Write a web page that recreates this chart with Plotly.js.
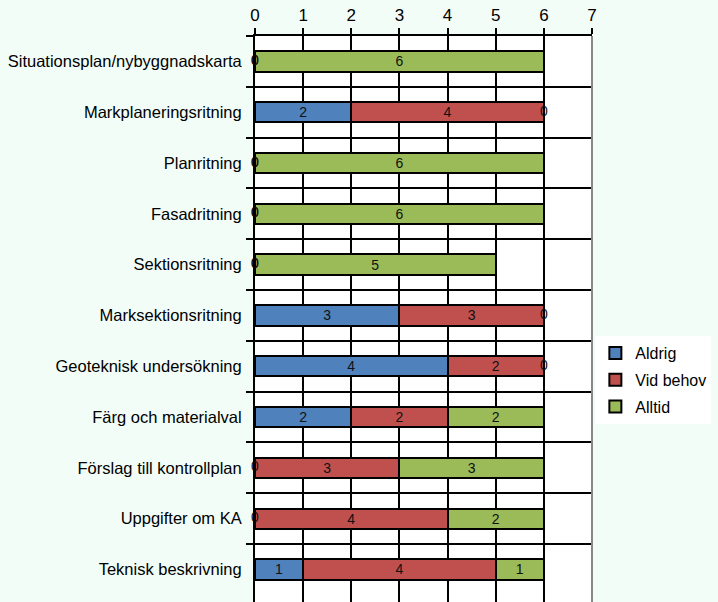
<!DOCTYPE html>
<html>
<head>
<meta charset="utf-8">
<script src="https://cdn.plot.ly/plotly-3.0.1.min.js"></script>
<style>html,body{margin:0;padding:0;background:#F2FDF7;}#chart{width:718px;height:602px;}</style>
</head>
<body>
<div id="chart"></div>
<script>
const categories = [
  "Situationsplan/nybyggnadskarta",
  "Markplaneringsritning",
  "Planritning",
  "Fasadritning",
  "Sektionsritning",
  "Marksektionsritning",
  "Geoteknisk undersökning",
  "Färg och materialval",
  "Förslag till kontrollplan",
  "Uppgifter om KA",
  "Teknisk beskrivning"
];
const aldrig   = [0, 2, 0, 0, 0, 3, 4, 2, 0, 0, 1];
const vidBehov = [0, 4, 0, 0, 0, 3, 2, 2, 3, 4, 4];
const alltid   = [6, 0, 6, 6, 5, 0, 0, 2, 3, 2, 1];
const seriesNames = ["Aldrig", "Vid behov", "Alltid"];
const xTicks = [0, 1, 2, 3, 4, 5, 6, 7];

const colors = ["#4F81BD", "#C0504D", "#9BBB59"];
const seriesVals = [aldrig, vidBehov, alltid];
const labelFont = {family: "Liberation Sans, Arial, sans-serif", size: 14, color: "#111"};

const traces = [];
seriesVals.forEach((vals, i) => {
  traces.push({
    type: "bar",
    orientation: "h",
    name: seriesNames[i],
    legendgroup: "g" + i,
    y: categories,
    x: vals,
    marker: {color: colors[i], line: {color: "#000", width: 2}},
    text: vals.map(v => v ? String(v) : ""),
    textposition: "inside",
    insidetextanchor: "middle",
    textangle: 0,
    constraintext: "none",
    textfont: labelFont,
    hoverinfo: "x+name"
  });
});
// zero-value labels at the stacked position
const zx = [], zy = [];
seriesVals.forEach((vals, i) => {
  vals.forEach((v, j) => {
    if (v === 0) {
      let base = 0;
      for (let k = 0; k < i; k++) base += seriesVals[k][j];
      zx.push(base); zy.push(categories[j]);
    }
  });
});
traces.push({
  type: "scatter", mode: "text", x: zx, y: zy, text: zx.map(() => "0"),
  textfont: labelFont, textposition: "middle center", showlegend: false,
  hoverinfo: "skip", cliponaxis: false
});

const layout = {
  width: 718, height: 602,
  paper_bgcolor: "#F2FDF7",
  plot_bgcolor: "#FFFFFF",
  margin: {l: 255, r: 126, t: 36, b: 0, pad: 0, autoexpand: false},
  barmode: "stack",
  bargap: 0.6,
  font: {family: "Liberation Sans, Arial, sans-serif", size: 16.5, color: "#000"},
  xaxis: {
    side: "top", range: [0, 7], tickvals: xTicks, ticktext: xTicks.map(String),
    showgrid: true, gridcolor: "#000", gridwidth: 2,
    showline: true, linecolor: "#000", linewidth: 2,
    ticks: "outside", ticklen: 6, tickwidth: 2, tickcolor: "#000",
    tickfont: {size: 17}, zeroline: false, fixedrange: true, automargin: false
  },
  yaxis: {
    type: "category", range: [10.64, -0.5],
    tickson: "boundaries", ticks: "outside", ticklen: 7, tickwidth: 2, tickcolor: "#000",
    showgrid: true, gridcolor: "#000", gridwidth: 2,
    showline: true, linecolor: "#000", linewidth: 2,
    tickfont: {size: 16.5}, ticklabelstandoff: 8, fixedrange: true, automargin: false
  },
  legend: {
    x: 1.01, xanchor: "left", y: 0.47, yanchor: "top",
    bgcolor: "#FFFFFF", traceorder: "grouped", tracegroupgap: 3,
    font: {size: 16}, itemwidth: 30
  },
  shapes: [{type: "line", xref: "paper", yref: "paper", x0: 1, x1: 1, y0: 0, y1: 1,
            line: {color: "#888", width: 2}}],
  showlegend: true
};
Plotly.newPlot("chart", traces, layout, {staticPlot: true, displayModeBar: false});
</script>
</body>
</html>
